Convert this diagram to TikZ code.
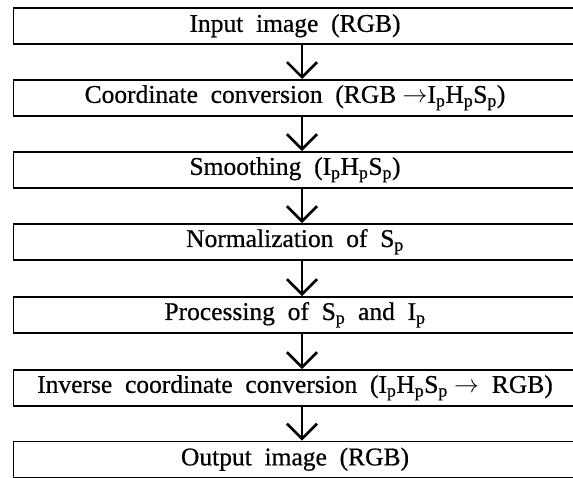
\documentclass[tikz,border=0pt]{standalone}
\usepackage{fontspec}
\setmainfont{Liberation Serif}[FakeBold=0.6]
\usetikzlibrary{arrows.meta}
\newcommand{\sbp}{\textsubscript{p}}
\tikzset{
  stepbox/.style={draw, line width=1.5pt, minimum width=563.5pt, minimum height=36pt, inner sep=0pt, anchor=north west,
    font=\fontsize{25.5}{28}\selectfont},
  flow/.style={line width=1.2pt, -{Straight Barb[length=15pt,width=30pt,line width=2.6pt]}}
}
\begin{document}
\begin{tikzpicture}[x=1pt,y=-1pt]
\useasboundingbox (0,0) rectangle (573,477);
\clip (0,0) rectangle (573,477);
\node[stepbox] (b1) at (12.5,7) {Input\ \ image\ \ (RGB)};
\node[stepbox] (b2) at (12.5,79) {Coordinate\ \ conversion\ \ (RGB $\rightarrow$I\sbp H\sbp S\sbp)};
\node[stepbox] (b3) at (12.5,151) {Smoothing\ \ (I\sbp H\sbp S\sbp)};
\node[stepbox] (b4) at (12.5,223) {Normalization\ \ of\ \ S\sbp};
\node[stepbox] (b5) at (12.5,296) {Processing\ \ of\ \ S\sbp\ \ and\ \ I\sbp};
\node[stepbox] (b6) at (12.5,369) {Inverse\ \ coordinate\ \ conversion\ \ (I\sbp H\sbp S\sbp\ $\rightarrow$\ \ RGB)};
\node[stepbox] (b7) at (12.5,440.5) {Output\ \ image\ \ (RGB)};
\coordinate (ax) at (302,0);
\foreach \a/\b in {b1/b2,b2/b3,b3/b4,b4/b5,b5/b6,b6/b7}{
  \draw[flow] (\a.south -| ax) -- (\b.north -| ax);
}
\end{tikzpicture}
\end{document}
